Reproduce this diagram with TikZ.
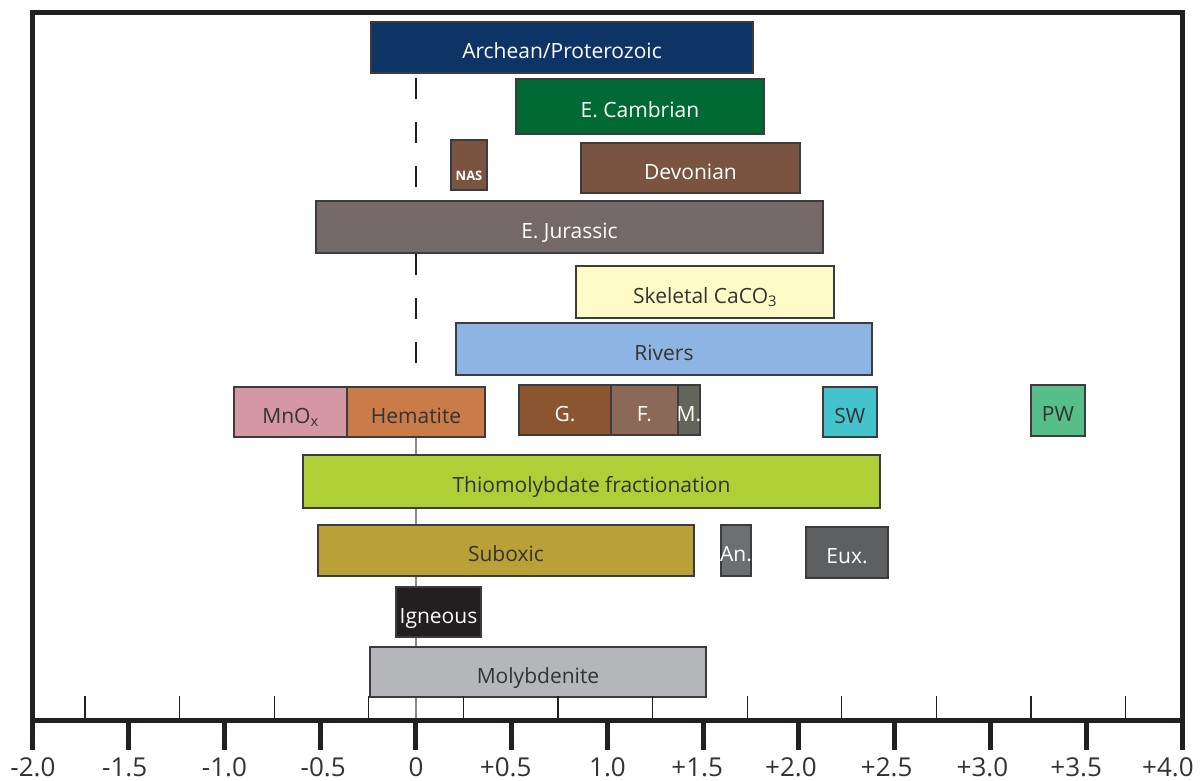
\documentclass[tikz,border=0pt]{standalone}
\usepackage{fontspec}
\setmainfont{Open Sans}
\usepackage{tikz}
\usetikzlibrary{fit,calc}

\definecolor{framec}{RGB}{35,31,32}
\definecolor{edgec}{RGB}{60,60,62}
\definecolor{inkc}{RGB}{51,51,51}
\definecolor{zeroc}{RGB}{140,140,140}
\definecolor{archeanc}{RGB}{14,52,102}
\definecolor{cambrianc}{RGB}{0,106,52}
\definecolor{devonianc}{RGB}{122,84,64}
\definecolor{jurassicc}{RGB}{117,104,105}
\definecolor{skeletalc}{RGB}{255,251,200}
\definecolor{riversc}{RGB}{141,180,226}
\definecolor{mnoxc}{RGB}{212,151,163}
\definecolor{hematitec}{RGB}{201,123,72}
\definecolor{gc}{RGB}{139,85,48}
\definecolor{fc}{RGB}{138,105,89}
\definecolor{mc}{RGB}{97,101,90}
\definecolor{swc}{RGB}{68,195,204}
\definecolor{pwc}{RGB}{87,190,138}
\definecolor{thioc}{RGB}{174,207,53}
\definecolor{suboxicc}{RGB}{185,160,55}
\definecolor{anc}{RGB}{108,110,113}
\definecolor{euxc}{RGB}{94,95,97}
\definecolor{igneousc}{RGB}{35,31,32}
\definecolor{molybc}{RGB}{181,182,185}

\tikzset{
  rangebox/.style={draw=edgec,line width=1.3pt,inner sep=0pt},
  barlabel/.style={anchor=base,inner sep=0pt,font=\fontsize{21}{24}\selectfont},
  majortick/.style={framec,line width=5pt},
  minortick/.style={framec,line width=1.3pt},
  ticklabel/.style={inkc,anchor=base,inner sep=0pt,font=\fontsize{26}{30}\selectfont}
}

% name, left, right, top, bottom, fill, text colour, label
\newcommand{\rangebar}[8]{%
  \coordinate (#1-nw) at (#2,#4);
  \coordinate (#1-se) at (#3,#5);
  \node[rangebox,fill=#6,fit=(#1-nw)(#1-se)] (#1) {};
  \node[barlabel,text=#7] (#1-lbl) at ($(#1.center)+(0,11)$) {#8};}

\begin{document}
\begin{tikzpicture}[x=191.5pt,y=-1pt]
  \useasboundingbox (-2.1723,0) rectangle (4.1097,780);

  % zero line
  \coordinate (z-top) at (0,78);
  \coordinate (z-mid) at (0,386);
  \coordinate (z-bot) at (0,720);
  \draw[framec,line width=1.5pt,dash pattern=on 21pt off 23pt] (z-top) -- (z-mid);
  \draw[zeroc,line width=1.5pt] (z-mid) -- (z-bot);

  % ranges
  \rangebar{archean}{-0.235}{1.760}{22}{73}{archeanc}{white}{Archean/Proterozoic}
  \rangebar{cambrian}{0.522}{1.817}{79}{134}{cambrianc}{white}{E. Cambrian}
  \rangebar{nas}{0.183}{0.371}{140}{190}{devonianc}{white}{}
  \node[white,font=\fontsize{13}{15}\selectfont\bfseries,anchor=base,inner sep=0pt] (nas-txt) at (0.277,180) {NAS};
  \rangebar{devonian}{0.862}{2.005}{143}{193}{devonianc}{white}{Devonian}
  \rangebar{jurassic}{-0.522}{2.125}{201}{253}{jurassicc}{white}{E. Jurassic}
  \rangebar{skeletal}{0.836}{2.183}{266}{318}{skeletalc}{inkc}{Skeletal CaCO\textsubscript{3}}
  \rangebar{rivers}{0.209}{2.381}{323}{375}{riversc}{inkc}{Rivers}
  \rangebar{mnox}{-0.950}{-0.360}{387}{437}{mnoxc}{inkc}{MnO\textsubscript{x}}
  \rangebar{hematite}{-0.360}{0.360}{387}{437}{hematitec}{inkc}{Hematite}
  \rangebar{gbar}{0.538}{1.018}{385}{435}{gc}{white}{G.}
  \rangebar{fbar}{1.018}{1.368}{385}{435}{fc}{white}{F.}
  \rangebar{mbar}{1.368}{1.483}{385}{435}{mc}{white}{M.}
  \rangebar{sw}{2.125}{2.407}{387}{437}{swc}{inkc}{SW}
  \rangebar{pw}{3.211}{3.493}{385}{436}{pwc}{inkc}{PW}
  \rangebar{thio}{-0.590}{2.423}{455}{508}{thioc}{inkc}{Thiomolybdate fractionation}
  \rangebar{suboxic}{-0.512}{1.452}{525}{576}{suboxicc}{inkc}{Suboxic}
  \rangebar{anox}{1.593}{1.749}{525}{576}{anc}{white}{An.}
  \rangebar{eux}{2.037}{2.465}{527}{578}{euxc}{white}{Eux.}
  \rangebar{igneous}{-0.104}{0.339}{587}{637}{igneousc}{white}{Igneous}
  \rangebar{molyb}{-0.240}{1.514}{647}{697}{molybc}{inkc}{Molybdenite}

  % frame and axis
  \foreach \k in {0,...,11}
    \draw[minortick] ({(85+94.6*\k-416)/191.5},696) -- ++(0,24);
  \draw[framec,line width=5pt] (-2,12) rectangle (4,720);
  \foreach \v/\t/\s [count=\k] in {-2/-2.0/0,-1.5/-1.5/-4,-1/-1.0/0,-0.5/-0.5/3,0/0/0,
      0.5/+0.5/-6,1/1.0/0,1.5/+1.5/-6,2/+2.0/-8,2.5/+2.5/-8,3/+3.0/-8,3.5/+3.5/-10,4/+4.0/-14}{
    \draw[majortick] (\v,720) -- (\v,750);
    \node[ticklabel,xshift=\s pt] (lbl\k) at (\v,776) {\t};
  }
\end{tikzpicture}
\end{document}
